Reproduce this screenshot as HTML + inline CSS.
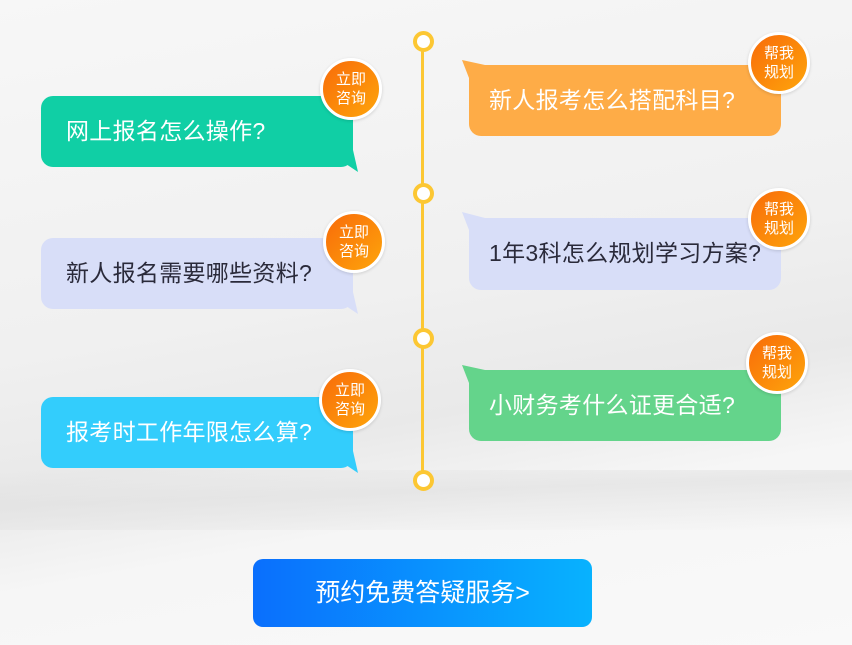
<!DOCTYPE html>
<html><head><meta charset="utf-8"><style>
*{margin:0;padding:0;box-sizing:border-box}
body{width:852px;height:645px;overflow:hidden;position:relative;font-family:"Liberation Sans","Noto Sans CJK SC",sans-serif;
background:linear-gradient(170deg,#f7f7f7 0%,#f0f0f0 45%,#e9e9e9 62%,#f6f6f6 75%,#f9f9f9 100%)}
.b{position:absolute;width:312px;height:71px;border-radius:12px;font-size:23px;line-height:71px;padding-left:25px;color:#fff;letter-spacing:0.3px}
.bd{position:absolute;width:62px;height:62px;border-radius:50%;border:3px solid #fff;background:linear-gradient(135deg,#f86b0a,#fea50b);color:#fff;font-size:15px;line-height:19px;text-align:center;padding-top:9px;box-shadow:0 1px 3px rgba(0,0,0,.15)}
.dot{position:absolute;left:413px;width:21px;height:21px;border-radius:50%;border:4px solid #fcc733;background:#fff}
svg{position:absolute;left:0;top:0}
</style></head><body>
<div style="position:absolute;left:0;top:470px;width:852px;height:60px;background:linear-gradient(178deg,rgba(225,225,225,0) 0%,rgba(225,225,225,.7) 40%,rgba(240,240,240,0) 100%)"></div>
<div style="position:absolute;left:421px;top:41px;width:3px;height:440px;background:#fcc733"></div>
<div class="dot" style="top:31px"></div>
<div class="dot" style="top:183px"></div>
<div class="dot" style="top:328px"></div>
<div class="dot" style="top:470px"></div>
<svg width="852" height="645">
<polygon points="340,160 353,150 358,172" fill="#10cfa5"/>
<polygon points="340,302 353,292 358,314" fill="#d8def8"/>
<polygon points="340,461 353,451 358,473" fill="#33cdfc"/>
<polygon points="462,60 485,65 469,78" fill="#feac47"/>
<polygon points="462,212 485,218 469,230" fill="#d8def8"/>
<polygon points="462,365 485,370 469,383" fill="#64d48b"/>
</svg>
<div class="b" style="left:41px;top:96px;background:#10cfa5">网上报名怎么操作?</div>
<div class="b" style="left:41px;top:238px;background:#d8def8;color:#2a2a3a">新人报名需要哪些资料?</div>
<div class="b" style="left:41px;top:397px;background:#33cdfc">报考时工作年限怎么算?</div>
<div class="b" style="left:469px;top:65px;background:#feac47;padding-left:20px">新人报考怎么搭配科目?</div>
<div class="b" style="left:469px;top:218px;background:#d8def8;color:#2a2a3a;padding-left:20px;height:72px">1年3科怎么规划学习方案?</div>
<div class="b" style="left:469px;top:370px;background:#64d48b;padding-left:20px">小财务考什么证更合适?</div>
<div class="bd" style="left:320px;top:58px">立即<br>咨询</div>
<div class="bd" style="left:323px;top:211px">立即<br>咨询</div>
<div class="bd" style="left:319px;top:369px">立即<br>咨询</div>
<div class="bd" style="left:748px;top:32px">帮我<br>规划</div>
<div class="bd" style="left:748px;top:188px">帮我<br>规划</div>
<div class="bd" style="left:746px;top:332px">帮我<br>规划</div>
<div style="position:absolute;left:253px;top:559px;width:339px;height:68px;border-radius:10px;background:linear-gradient(90deg,#0a6ffd,#08b2fe);color:#fff;font-size:25px;line-height:68px;text-align:center">预约免费答疑服务&gt;</div>
</body></html>
